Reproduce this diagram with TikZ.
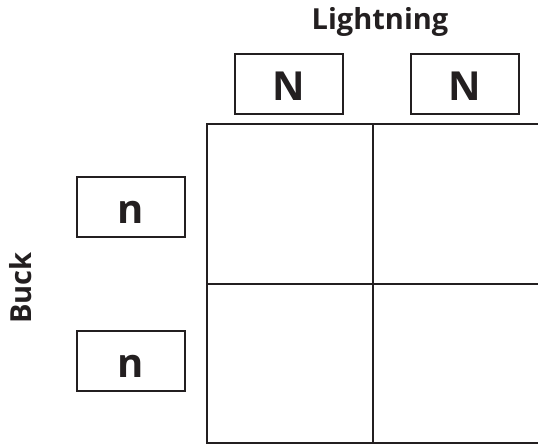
\documentclass[tikz,border=0pt]{standalone}
\usepackage{fontspec}
\setmainfont{Open Sans}
\usetikzlibrary{positioning}
\definecolor{ink}{RGB}{35,31,32}

\begin{document}
\begin{tikzpicture}[x=1pt, y=-1pt, ink, line width=2.4pt,
    allele/.style={draw, line width=2pt, minimum width=108pt, minimum height=60pt, inner sep=0pt,
      text height=32pt, text depth=0pt, font=\bfseries\fontsize{40}{40}\selectfont},
    parent/.style={anchor=base, inner sep=0pt, font=\bfseries\fontsize{29}{29}\selectfont}]
  \useasboundingbox (0,0) rectangle (538,445);
  % Punnett square (right edge runs off the page)
  \draw (207,124) rectangle (540,443);
  \draw (373,124) -- (373,443);
  \draw (207,284) -- (540,284);
  % Parent names
  \node[parent] (lightning) at (380,29) {Lightning};
  \node[parent, rotate=90] (buck) at (31,288) {Buck};
  % Alleles from each parent
  \node[allele] (top1) at (288.5,84) {N};
  \node[allele] (top2) at (464.5,84) {N};
  \node[allele] (left1) at (130.5,207) {n};
  \node[allele] (left2) at (130.5,361) {n};
\end{tikzpicture}
\end{document}
